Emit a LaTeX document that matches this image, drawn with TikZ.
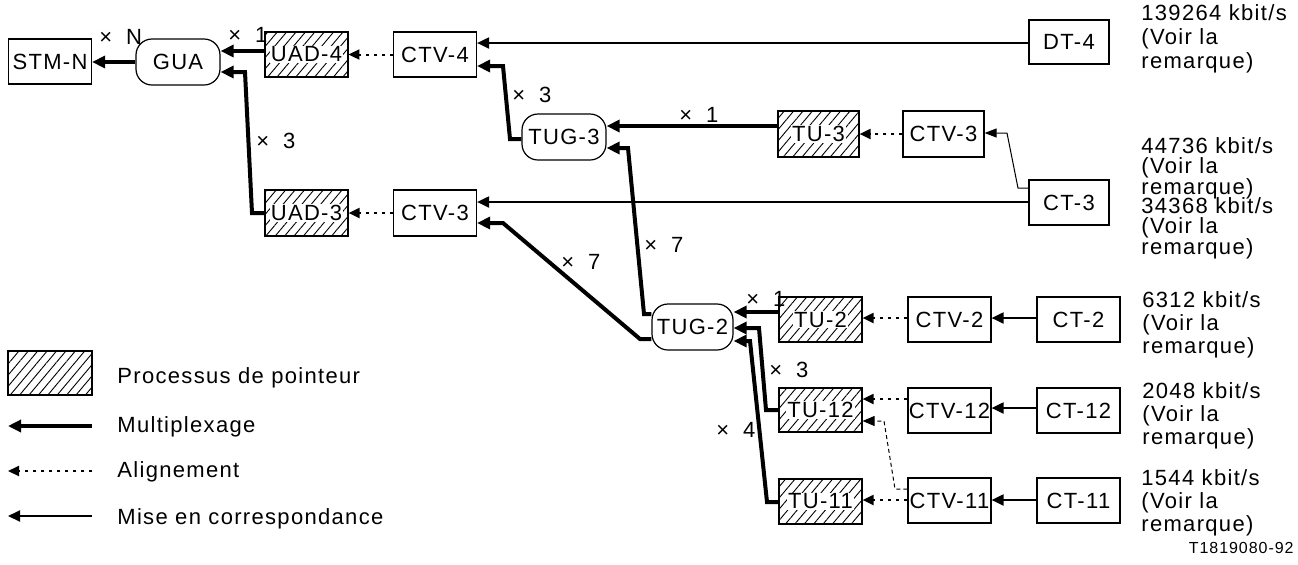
\documentclass[tikz,border=0pt]{standalone}
\usepackage{fontspec}
\setmainfont[LetterSpace=6]{Liberation Sans}
\usetikzlibrary{arrows.meta,patterns.meta,calc}
\begin{document}
\begin{tikzpicture}[x=0.5pt,y=-0.5pt,
  every node/.style={font=\fontsize{11}{11}\selectfont},
  sbox/.style={draw, line width=0.6pt, minimum width=41.5pt, minimum height=22.5pt, inner sep=0pt},
  rbox/.style={sbox, rounded corners=8pt, minimum width=42pt, minimum height=23pt},
  hatchbox/.style={sbox, pattern={Lines[angle=50,distance=3.6pt,line width=0.45pt]}},
  htext/.style={fill=white, inner sep=0.6pt},
  muxarr/.style={line width=2pt, -{Triangle[length=6.5pt,width=6pt]}},
  alnarr/.style={line width=1pt, dash pattern=on 1.5pt off 2.5pt, -{Triangle[length=5.5pt,width=5pt]}},
  maparr/.style={line width=1pt, -{Triangle[length=6pt,width=5.5pt]}},
  thinmap/.style={line width=0.5pt, -{Triangle[length=6pt,width=4.5pt]}},
  thindash/.style={line width=0.5pt, dash pattern=on 2pt off 1.5pt, -{Triangle[length=6pt,width=5pt]}},
  mult/.style={anchor=base west, inner sep=0pt},
  rate/.style={anchor=north west, align=left, inner sep=0pt},
  legtext/.style={anchor=base west, inner sep=0pt},
]
\useasboundingbox (0,0) rectangle (1298,564);

% ---- nodes ----
\node[sbox] (stm) at (50,61.5) {STM-N};
\node[rbox] (gua) at (178,62) {GUA};
\node[hatchbox] (uad4) at (306.5,54.5) {};
\node[htext] (uad4t) at (uad4) {UAD-4};
\node[sbox] (ctv4) at (435,54.5) {CTV-4};
\node[sbox, minimum width=40pt, minimum height=22pt] (dt4) at (1069,42) {DT-4};

\node[rbox] (tug3) at (564,137) {TUG-3};
\node[hatchbox, minimum width=40.5pt, minimum height=23pt] (tu3) at (818.5,134) {};
\node[htext] (tu3t) at (tu3) {TU-3};
\node[sbox, minimum width=40.5pt, minimum height=23pt] (ctv3a) at (943.5,134) {CTV-3};
\node[sbox, minimum width=40pt] (ct3) at (1069,202.5) {CT-3};

\node[hatchbox, minimum height=23pt] (uad3) at (306.5,213) {};
\node[htext] (uad3t) at (uad3) {UAD-3};
\node[sbox, minimum height=23pt] (ctv3b) at (435,213) {CTV-3};

\node[rbox, minimum width=40.5pt] (tug2) at (692.5,327) {TUG-2};
\node[hatchbox] (tu2) at (820.5,319.5) {};
\node[htext] (tu2t) at (tu2) {TU-2};
\node[sbox] (ctv2) at (949.5,319.5) {CTV-2};
\node[sbox] (ct2) at (1078.5,319.5) {CT-2};

\node[hatchbox, minimum height=22pt] (tu12) at (820.5,410) {};
\node[htext] (tu12t) at (tu12) {TU-12};
\node[sbox] (ctv12) at (949.5,410.5) {CTV-12};
\node[sbox] (ct12) at (1078.5,410.5) {CT-12};

\node[hatchbox] (tu11) at (820.5,501.5) {};
\node[htext] (tu11t) at (tu11) {TU-11};
\node[sbox] (ctv11) at (949.5,500.5) {CTV-11};
\node[sbox] (ct11) at (1078.5,500.5) {CT-11};

% ---- connectors ----
\draw[muxarr] (gua.west) -- (stm.east |- gua.west);
\draw[muxarr] (uad4.west |- 0,51) -- (gua.east |- 0,51);
\draw[muxarr] (uad3.west) -- (252,213) -- (245,72) -- (gua.east |- 0,72);
\draw[alnarr] (ctv4.west) -- (uad4.east);
\draw[maparr] (dt4.west |- 0,43) -- (ctv4.east |- 0,43);
\draw[muxarr] (tug3.west |- 0,139) -- (510,139) -- (503,66) -- (ctv4.east |- 0,66);
\draw[muxarr] (tu3.west |- 0,126) -- (tug3.east |- 0,126);
\draw[alnarr] (ctv3a.west) -- (tu3.east);
\draw[thinmap] (ct3.west |- 0,188) -- (1018,188) -- (1007,133) -- (ctv3a.east |- 0,133);
\draw[maparr] (ct3.west |- 0,202) -- (ctv3b.east |- 0,202);
\draw[alnarr] (ctv3b.west) -- (uad3.east);
\draw[muxarr] (tug2.west |- 0,314) -- (644,314) -- (628,148) -- (tug3.east |- 0,148);
\draw[muxarr] (tug2.west |- 0,339) -- (640,339) -- (503,223) -- (ctv3b.east |- 0,223);
\draw[muxarr] (tu2.west |- 0,312) -- (tug2.east |- 0,312);
\draw[muxarr] (tu12.west) -- (766,410) -- (759,328) -- (tug2.east |- 0,328);
\draw[muxarr] (tu11.west |- 0,502) -- (767,502) -- (750,341) -- (tug2.east |- 0,341);
\draw[alnarr] (ctv2.west |- 0,318) -- (tu2.east |- 0,318);
\draw[maparr] (ct2.west |- 0,318) -- (ctv2.east |- 0,318);
\draw[alnarr] (ctv12.west |- 0,399) -- (tu12.east |- 0,399);
\draw[maparr] (ct12.west |- 0,408) -- (ctv12.east |- 0,408);
\draw[thindash] (ctv11.west |- 0,489) -- (895,489) -- (884,421) -- (tu12.east |- 0,421);
\draw[alnarr] (ctv11.west |- 0,500) -- (tu11.east |- 0,500);
\draw[maparr] (ct11.west |- 0,500) -- (ctv11.east |- 0,500);

% ---- multiplicity labels ----
\node[mult] (mN) at (99,44) {×\hspace{7pt}N};
\node[mult] (m1a) at (228,42) {×\hspace{7pt}1};
\node[mult] (m3a) at (512,102) {×\hspace{7pt}3};
\node[mult] (m1b) at (679,122) {×\hspace{7pt}1};
\node[mult] (m3b) at (256,148) {×\hspace{7pt}3};
\node[mult] (m7a) at (561,269) {×\hspace{7pt}7};
\node[mult] (m7b) at (644,252) {×\hspace{7pt}7};
\node[mult] (m1c) at (746,306) {×\hspace{7pt}1};
\node[mult] (m3c) at (769,377) {×\hspace{7pt}3};
\node[mult] (m4) at (716,437) {×\hspace{7pt}4};

% ---- rates ----
\node[rate, font=\fontsize{11}{12}\selectfont] (r1) at (1141,4) {139264 kbit/s\\(Voir la\\remarque)};
\node[rate, font=\fontsize{11}{10.25}\selectfont] (r2) at (1141,137) {44736 kbit/s\\(Voir la\\remarque)};
\node[rate, font=\fontsize{11}{10.25}\selectfont] (r3) at (1141,197) {34368 kbit/s\\(Voir la\\remarque)};
\node[rate, font=\fontsize{11}{11.5}\selectfont] (r4) at (1142,291) {6312 kbit/s\\(Voir la\\remarque)};
\node[rate, font=\fontsize{11}{11.5}\selectfont] (r5) at (1142,382) {2048 kbit/s\\(Voir la\\remarque)};
\node[rate, font=\fontsize{11}{11.5}\selectfont] (r6) at (1141,469) {1544 kbit/s\\(Voir la\\remarque)};
\node[anchor=base east, inner sep=0pt, font=\fontsize{8}{8}\selectfont] (ref) at (1294,553) {T1819080-92};

% ---- legend ----
\node[hatchbox, minimum width=42pt, minimum height=22pt] (leg) at (50,373) {};
\node[legtext] (l1) at (117,383) {Processus de pointeur};
\coordinate (la1) at (92,426); \coordinate (la0) at (8,426);
\draw[muxarr] (la1) -- (la0);
\node[legtext] (l2) at (117,432) {Multiplexage};
\coordinate (lb1) at (92,471); \coordinate (lb0) at (8,471);
\draw[alnarr] (lb1) -- (lb0);
\node[legtext] (l3) at (117,477) {Alignement};
\coordinate (lc1) at (92,516); \coordinate (lc0) at (8,516);
\draw[maparr] (lc1) -- (lc0);
\node[legtext] (l4) at (117,524) {Mise en correspondance};
\end{tikzpicture}
\end{document}
